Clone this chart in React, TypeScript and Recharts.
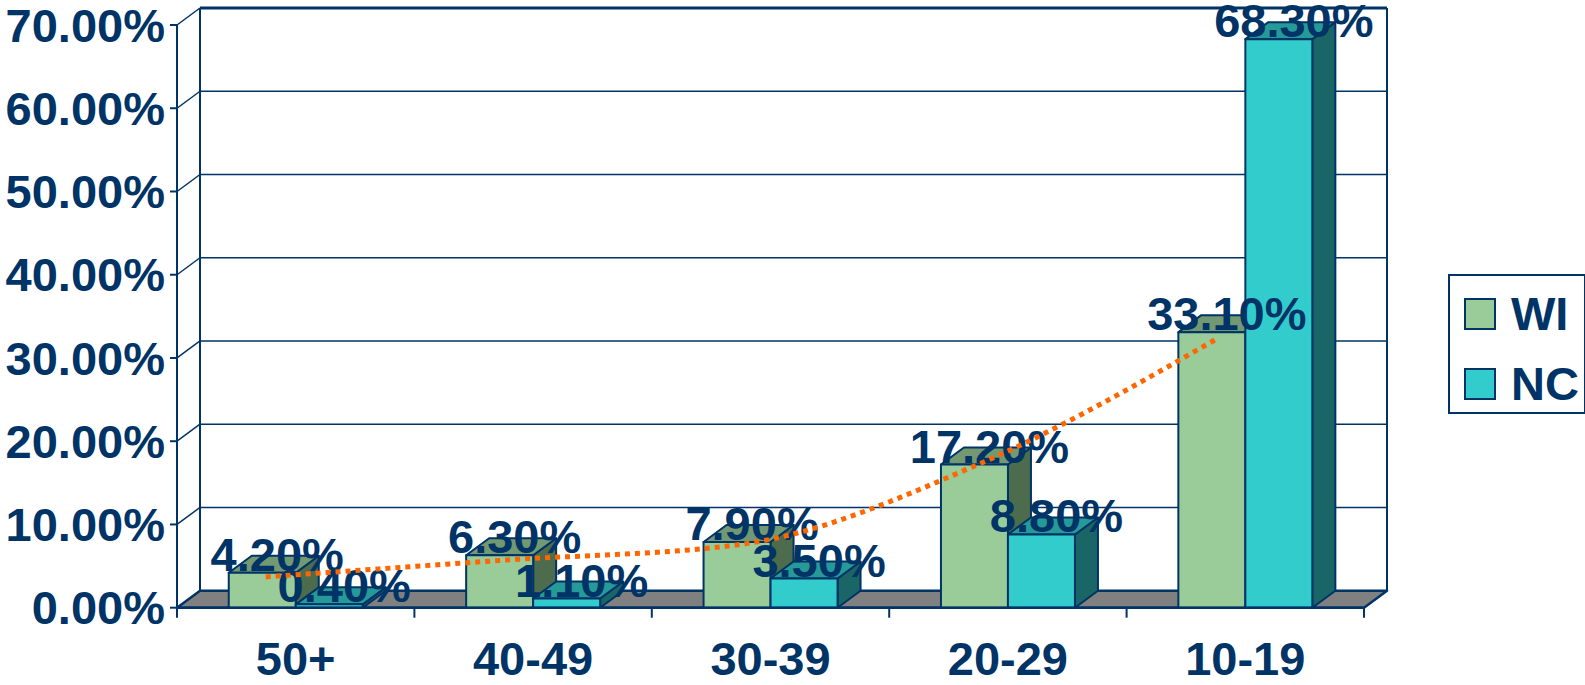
import React from 'react';
import { ComposedChart, Bar, Line, XAxis, YAxis, CartesianGrid } from 'recharts';

// Share of cases by age group, in percent
const ageGroups = ['50+', '40-49', '30-39', '20-29', '10-19'];
const wiShare = [4.2, 6.3, 7.9, 17.2, 33.1];
const ncShare = [0.4, 1.1, 3.5, 8.8, 68.3];
// dotted trend line over the WI series
const wiTrend = [3.7, 5.7, 7.6, 17.2, 32.2];
const yTicks = [0, 10, 20, 30, 40, 50, 60, 70];

const data = ageGroups.map((age, i) => ({
  age,
  WI: wiShare[i],
  NC: ncShare[i],
  trend: wiTrend[i],
}));

const NAVY = '#003366';
const FONT = "'Liberation Sans', Arial, sans-serif";
const FONT_SIZE = 47;
// depth offset used for the fake 3D walls and boxes
const DX = 23;
const DY = -17;

const FACES: Record<string, { front: string; top: string; side: string }> = {
  WI: { front: '#99CC99', top: '#739973', side: '#4D6B4D' },
  NC: { front: '#33CCCC', top: '#269999', side: '#1A6666' },
};

const makeBox = (series: string) => (props: any) => {
  const { x, y, width, height } = props;
  const c = FACES[series];
  if (width == null || height == null) return <g />;
  const r = x + width;
  const b = y + height;
  return (
    <g stroke={NAVY} strokeWidth={2} strokeLinejoin="round">
      <polygon points={`${r},${y} ${r + DX},${y + DY} ${r + DX},${b + DY} ${r},${b}`} fill={c.side} />
      <polygon points={`${x},${y} ${r},${y} ${r + DX},${y + DY} ${x + DX},${y + DY}`} fill={c.top} />
      <rect x={x} y={y} width={width} height={height} fill={c.front} />
    </g>
  );
};

const renderValueLabel = (props: any) => {
  const { x, y, width, value } = props;
  return (
    <text
      x={x + width / 2 + 15}
      y={y - 2}
      textAnchor="middle"
      fill={NAVY}
      fontSize={FONT_SIZE}
      fontWeight={700}
      fontFamily={FONT}
    >
      {`${Number(value).toFixed(2)}%`}
    </text>
  );
};

// back wall, side wall and floor are drawn from the grid lines
const renderGridLine = (props: any) => {
  const { x1, y1, x2, x, y, width, height, key } = props;
  const bottom = y + height;
  const isFloor = Math.abs(y1 - bottom) < 1;
  const isTop = Math.abs(y1 - y) < 1;

  if (isFloor) {
    const step = width / ageGroups.length;
    return (
      <g key={key}>
        <polygon
          points={`${x1},${y1} ${x2},${y1} ${x2 + DX},${y1 + DY} ${x1 + DX},${y1 + DY}`}
          fill="#808080"
          stroke={NAVY}
          strokeWidth={2.5}
          strokeLinejoin="round"
        />
        {ageGroups.map((_, k) => (
          <line key={k} x1={x1 + step * k} y1={y1} x2={x1 + step * k} y2={y1 + 10} stroke={NAVY} strokeWidth={2} />
        ))}
        <line x1={x2} y1={y1} x2={x2} y2={y1 + 10} stroke={NAVY} strokeWidth={2} />
      </g>
    );
  }

  return (
    <g key={key} stroke={NAVY}>
      <line x1={x1 + DX} y1={y1 + DY} x2={x2 + DX} y2={y1 + DY} strokeWidth={isTop ? 3 : 1.5} />
      <line x1={x1} y1={y1} x2={x1 + DX} y2={y1 + DY} strokeWidth={1.5} />
      {isTop && (
        <>
          <line x1={x1 + DX} y1={y1 + DY} x2={x1 + DX} y2={bottom + DY} strokeWidth={2} />
          <line x1={x2 + DX} y1={y1 + DY} x2={x2 + DX} y2={bottom + DY} strokeWidth={2} />
        </>
      )}
    </g>
  );
};

const AgeTick = (props: any) => {
  const { x, y, payload } = props;
  return (
    <text x={x} y={y + 67} textAnchor="middle" fill={NAVY} fontSize={FONT_SIZE} fontWeight={700} fontFamily={FONT}>
      {payload.value}
    </text>
  );
};

const legendItems = [
  { name: 'WI', color: FACES.WI.front },
  { name: 'NC', color: FACES.NC.front },
];

export default function App() {
  return (
    <div style={{ position: 'absolute', left: 0, top: 0, width: 1585, height: 685, background: '#fff' }}>
      <ComposedChart width={1585} height={685} data={data} margin={{ top: 25, right: 221, bottom: 0, left: 0 }} barCategoryGap="21.8%" barGap={0}>
        <CartesianGrid horizontal={renderGridLine} vertical={false} fill="none" />
        <XAxis
          dataKey="age"
          height={77.3}
          axisLine={{ stroke: NAVY, strokeWidth: 2.5 }}
          tickLine={false}
          tickSize={0}
          tickMargin={0}
          tick={<AgeTick />}
          interval={0}
        />
        <XAxis xAxisId="trend" dataKey="age" hide padding={{ left: -30, right: 30 }} />
        <YAxis
          width={177}
          domain={[0, 70]}
          ticks={yTicks}
          interval={0}
          tickFormatter={(v: number) => `${v.toFixed(2)}%`}
          axisLine={{ stroke: NAVY, strokeWidth: 2 }}
          tickLine={{ stroke: NAVY, strokeWidth: 2 }}
          tickSize={7}
          tickMargin={5}
          tick={{ fill: NAVY, fontSize: FONT_SIZE, fontWeight: 700, fontFamily: FONT }}
        />
        <Bar dataKey="WI" shape={makeBox('WI')} label={renderValueLabel} isAnimationActive={false} />
        <Bar dataKey="NC" shape={makeBox('NC')} label={renderValueLabel} isAnimationActive={false} />
        <Line
          xAxisId="trend"
          dataKey="trend"
          type="monotone"
          stroke="#FF6600"
          strokeWidth={5}
          strokeDasharray="5 5"
          dot={false}
          activeDot={false}
          zIndex={2500}
          isAnimationActive={false}
        />
      </ComposedChart>
      <div
        style={{
          position: 'absolute',
          left: 1448,
          top: 274,
          width: 134,
          height: 136,
          border: `2px solid ${NAVY}`,
          background: '#fff',
          fontFamily: FONT,
          fontWeight: 700,
          fontSize: FONT_SIZE,
          color: NAVY,
        }}
      >
        {legendItems.map((item, i) => (
          <div key={item.name} style={{ position: 'absolute', left: 14, top: 22 + i * 70, display: 'flex', alignItems: 'center', height: 32 }}>
            <span style={{ display: 'inline-block', width: 28, height: 28, background: item.color, border: `2px solid ${NAVY}` }} />
            <span style={{ marginLeft: 15, lineHeight: '32px' }}>{item.name}</span>
          </div>
        ))}
      </div>
    </div>
  );
}
